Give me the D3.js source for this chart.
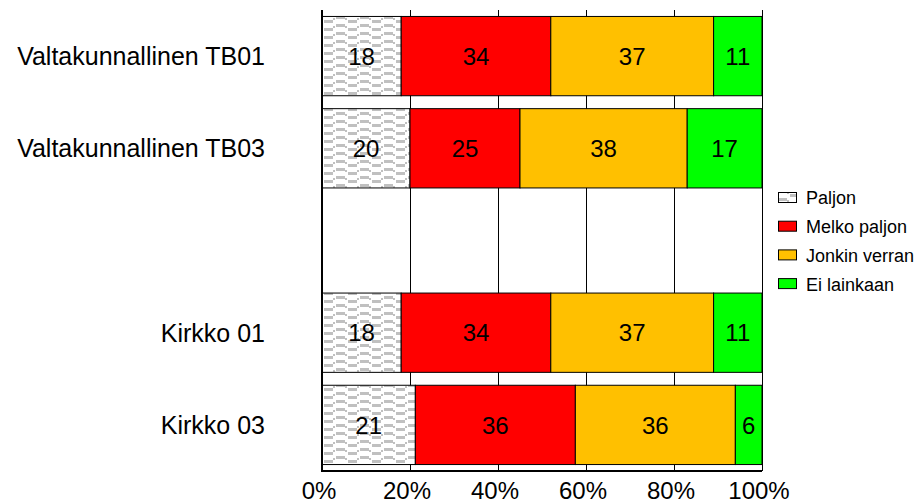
<!DOCTYPE html>
<html>
<head>
<meta charset="utf-8">
<script src="https://cdn.jsdelivr.net/npm/d3@7/dist/d3.min.js"></script>
<style>
  html, body { margin: 0; padding: 0; background: #fff; }
  svg { display: block; font-family: "Liberation Sans", Arial, sans-serif; }
</style>
</head>
<body>
<svg id="chart" width="922" height="504"></svg>
<script>
// Survey answers per group, percentage shares
const categories = ["Valtakunnallinen TB01", "Valtakunnallinen TB03", "", "Kirkko 01", "Kirkko 03"];
const seriesNames = ["Paljon", "Melko paljon", "Jonkin verran", "Ei lainkaan"];
const paljon = [18, 20, null, 18, 21];
const melkoPaljon = [34, 25, null, 34, 36];
const jonkinVerran = [37, 38, null, 37, 36];
const eiLainkaan = [11, 17, null, 11, 6];
const tickValues = [0, 0.2, 0.4, 0.6, 0.8, 1];
const tickLabels = ["0%", "20%", "40%", "60%", "80%", "100%"];

const seriesValues = [paljon, melkoPaljon, jonkinVerran, eiLainkaan];
const fills = ["url(#wave)", "#FF0000", "#FFC000", "#00FF00"];

const rows = categories.map((c, i) => {
  const r = { idx: i, name: c };
  seriesNames.forEach((s, j) => { r[s] = seriesValues[j][i] == null ? 0 : seriesValues[j][i]; });
  return r;
});

const svg = d3.select("#chart");

// wavy dash fill for the first series
const defs = svg.append("defs");
const pat = defs.append("pattern")
  .attr("id", "wave").attr("patternUnits", "userSpaceOnUse")
  .attr("width", 24).attr("height", 8);
pat.append("rect").attr("width", 24).attr("height", 8).attr("fill", "#fff");
const waveGrey = "#C0C0C0";
[[0, 0, 9, 3], [9, 2, 2, 2], [12, 4, 9, 3], [21, 2, 2, 2]].forEach(([px, py, w, h]) => {
  pat.append("rect").attr("x", px).attr("y", py).attr("width", w).attr("height", h).attr("fill", waveGrey);
});

const plotLeft = 322, plotRight = 762, plotTop = 10, plotBottom = 471;

const x = d3.scaleLinear().domain([0, 1]).range([plotLeft, plotRight]);
const y = d3.scaleBand().domain(rows.map(r => r.idx)).range([plotTop, plotBottom])
  .paddingInner(0.14).paddingOuter(0.07);

// vertical grid lines
svg.append("g").selectAll("line")
  .data(tickValues.slice(1))
  .join("line")
  .attr("x1", d => Math.round(x(d)) + 0.5).attr("x2", d => Math.round(x(d)) + 0.5)
  .attr("y1", plotTop).attr("y2", plotBottom)
  .attr("stroke", "#000").attr("stroke-width", 1);

// stacked bars (each row expanded to 100 %)
const stack = d3.stack().keys(seriesNames).offset(d3.stackOffsetExpand);
const layers = stack(rows.filter(r => seriesNames.some(s => r[s] > 0)));

const layerG = svg.append("g").selectAll("g")
  .data(layers)
  .join("g")
  .attr("fill", (d, i) => fills[i]);

layerG.selectAll("rect")
  .data(d => d.map(p => ({ p, key: d.key })))
  .join("rect")
  .attr("x", d => x(d.p[0]))
  .attr("y", d => y(d.p.data.idx))
  .attr("width", d => x(d.p[1]) - x(d.p[0]))
  .attr("height", y.bandwidth())
  .attr("stroke", "#000").attr("stroke-width", 1);

// value labels
layerG.selectAll("text")
  .data(d => d.map(p => ({ p, key: d.key })))
  .join("text")
  .attr("x", d => (x(d.p[0]) + x(d.p[1])) / 2)
  .attr("y", d => y(d.p.data.idx) + y.bandwidth() / 2)
  .attr("dy", "0.36em")
  .attr("text-anchor", "middle")
  .attr("fill", "#000")
  .attr("font-size", 24)
  .text(d => d.p.data[d.key]);

// axis lines
svg.append("line").attr("x1", plotLeft).attr("x2", plotLeft).attr("y1", plotTop).attr("y2", plotBottom + 1)
  .attr("stroke", "#000").attr("stroke-width", 2);
svg.append("line").attr("x1", plotLeft - 1).attr("x2", plotRight).attr("y1", plotBottom).attr("y2", plotBottom)
  .attr("stroke", "#000").attr("stroke-width", 2);

// x tick labels
svg.append("g").selectAll("text")
  .data(tickValues)
  .join("text")
  .attr("x", d => x(d) - 3)
  .attr("y", 490)
  .attr("dy", "0.36em")
  .attr("text-anchor", "middle")
  .attr("font-size", 24)
  .text((d, i) => tickLabels[i]);

// category labels
svg.append("g").selectAll("text")
  .data(rows)
  .join("text")
  .attr("x", 265)
  .attr("y", d => y(d.idx) + y.bandwidth() / 2)
  .attr("dy", "0.36em")
  .attr("text-anchor", "end")
  .attr("font-size", 25)
  .text(d => d.name);

// legend
const legend = svg.append("g").selectAll("g")
  .data(seriesNames)
  .join("g")
  .attr("transform", (d, i) => `translate(778,${198 + i * 28.7})`);
legend.append("rect")
  .attr("x", 0.5).attr("y", -5.5).attr("width", 18).attr("height", 10)
  .attr("fill", (d, i) => fills[i])
  .attr("stroke", "#000").attr("stroke-width", 1);
legend.append("text")
  .attr("x", 28).attr("y", 0).attr("dy", "0.36em")
  .attr("font-size", 18)
  .text(d => d);
</script>
</body>
</html>
